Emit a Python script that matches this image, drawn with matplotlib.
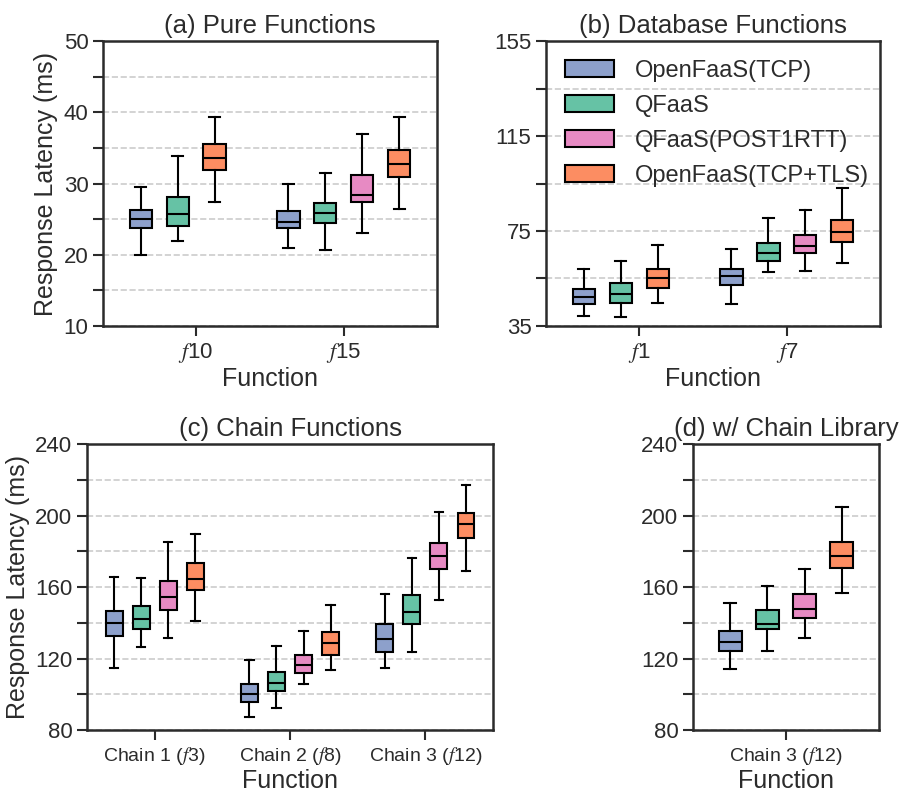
import matplotlib
matplotlib.use("Agg")
import matplotlib.pyplot as plt
from matplotlib.patches import Patch

plt.rcParams["font.family"] = ["Liberation Sans", "DejaVu Sans"]
plt.rcParams["mathtext.fontset"] = "stix"

SYSTEMS = ["OpenFaaS(TCP)", "QFaaS", "QFaaS(POST1RTT)", "OpenFaaS(TCP+TLS)"]
COLORS = ["#8da0cb", "#66c2a5", "#e78ac3", "#fc8d62"]
INK = "#2b2b2b"

# box stats per category: (whislo, q1, med, q3, whishi); None = not measured
PURE_CATS = [r"$f$10", r"$f$15"]
PURE_TCP = [(20.0, 23.7, 25.0, 26.3, 29.5), (20.9, 23.7, 24.6, 26.2, 30.0)]
PURE_QFAAS = [(21.9, 24.0, 25.7, 28.1, 33.8), (20.7, 24.4, 25.9, 27.3, 31.5)]
PURE_POST = [None, (23.0, 27.4, 28.4, 31.2, 37.0)]
PURE_TLS = [(27.4, 31.9, 33.6, 35.5, 39.3), (26.4, 30.9, 32.7, 34.7, 39.3)]

DB_CATS = [r"$f$1", r"$f$7"]
DB_TCP = [(39.4, 44.4, 47.2, 50.6, 59.0), (44.1, 52.4, 55.9, 59.0, 67.6)]
DB_QFAAS = [(38.8, 44.6, 48.6, 52.9, 62.3), (57.8, 62.3, 65.8, 70.0, 80.3)]
DB_POST = [None, (58.3, 65.9, 68.7, 73.4, 83.8)]
DB_TLS = [(44.7, 51.2, 55.2, 58.8, 69.0), (61.7, 70.4, 74.4, 79.5, 92.9)]

CHAIN_CATS = [r"Chain 1 ($f$3)", r"Chain 2 ($f$8)", r"Chain 3 ($f$12)"]
CHAIN_TCP = [(114.9, 132.5, 139.7, 146.7, 165.5), (87.1, 95.7, 100.2, 105.8, 119.4),
             (114.5, 123.9, 131.0, 139.2, 156.0)]
CHAIN_QFAAS = [(126.5, 136.6, 142.2, 149.1, 165.3), (92.3, 101.8, 106.3, 112.5, 127.0),
               (123.5, 139.4, 145.9, 155.6, 176.0)]
CHAIN_POST = [(131.7, 147.4, 154.5, 163.5, 185.3), (105.8, 111.9, 116.2, 122.0, 135.4),
              (152.8, 170.2, 177.1, 184.4, 201.9)]
CHAIN_TLS = [(141.0, 158.6, 164.6, 173.5, 189.6), (113.6, 122.0, 128.9, 134.7, 149.8),
             (168.9, 187.5, 195.2, 201.2, 217.0)]

LIB_CATS = [r"Chain 3 ($f$12)"]
LIB_TCP = [(114.1, 124.1, 129.3, 135.3, 150.9)]
LIB_QFAAS = [(124.1, 136.3, 139.1, 147.0, 160.7)]
LIB_POST = [(131.6, 142.6, 147.7, 156.0, 170.0)]
LIB_TLS = [(156.9, 170.6, 177.2, 185.4, 204.7)]

# y ticks: labelled majors, unlabelled minors (both gridded)
PURE_MAJOR, PURE_MINOR = [10, 20, 30, 40, 50], [15, 25, 35, 45]
DB_MAJOR, DB_MINOR = [35, 75, 115, 155], [55, 95, 135]
CHAIN_MAJOR, CHAIN_MINOR = [80, 120, 160, 200, 240], [100, 140, 180, 220]


def boxes(ax, cats, series, slot, width):
    for ci in range(len(cats)):
        # present series fill the slots from the left
        present = [(si, s[ci]) for si, s in enumerate(series) if s[ci] is not None]
        for k, (si, st) in enumerate(present):
            lo, q1, med, q3, hi = st
            pos = ci + (k - 1.5) * slot
            ax.bxp([dict(whislo=lo, q1=q1, med=med, q3=q3, whishi=hi, fliers=[])],
                   positions=[pos], widths=width, patch_artist=True, showfliers=False,
                   boxprops=dict(facecolor=COLORS[si], edgecolor="black", lw=1.5),
                   medianprops=dict(color="black", lw=1.5),
                   whiskerprops=dict(color="black", lw=1.5),
                   capprops=dict(color="black", lw=1.5))
    ax.set_xticks(range(len(cats)))
    ax.set_xticklabels(cats)


def style(ax, title, major, minor, ylabel=True, xfs=16):
    ax.set_ylim(major[0], major[-1])
    ax.set_yticks(major)
    ax.set_yticks(minor, minor=True)
    ax.tick_params(which="both", axis="y", length=7, width=1.5, color=INK,
                   labelsize=16, labelcolor=INK, direction="out")
    ax.tick_params(axis="x", length=7, width=1.5, color=INK, labelsize=xfs,
                   labelcolor=INK, direction="out")
    ax.grid(axis="y", which="both", ls="--", color="#cccccc", lw=1.2)
    ax.set_axisbelow(True)
    for sp in ax.spines.values():
        sp.set_color(INK); sp.set_linewidth(1.8)
    ax.set_title(title, fontsize=18.5, color=INK, pad=6)
    ax.set_xlabel("Function", fontsize=18, color=INK, labelpad=2)
    if ylabel:
        ax.set_ylabel("Response Latency (ms)", fontsize=18, color=INK)


fig = plt.figure(figsize=(9.01, 7.98), dpi=100)
ax_a = fig.add_axes([0.1143, 0.5915, 0.3707, 0.3571])
ax_b = fig.add_axes([0.606, 0.5915, 0.3707, 0.3571])
ax_c = fig.add_axes([0.0966, 0.0852, 0.4506, 0.3584])
ax_d = fig.add_axes([0.7691, 0.0852, 0.2065, 0.3584])

boxes(ax_a, PURE_CATS, [PURE_TCP, PURE_QFAAS, PURE_POST, PURE_TLS], 0.25, 0.15)
ax_a.set_xlim(-0.63, 1.63)
style(ax_a, "(a) Pure Functions", PURE_MAJOR, PURE_MINOR)

boxes(ax_b, DB_CATS, [DB_TCP, DB_QFAAS, DB_POST, DB_TLS], 0.25, 0.15)
ax_b.set_xlim(-0.63, 1.63)
style(ax_b, "(b) Database Functions", DB_MAJOR, DB_MINOR, ylabel=False)
handles = [Patch(facecolor=c, edgecolor="black", lw=1.5) for c in COLORS]
ax_b.legend(handles, SYSTEMS, loc="upper left", frameon=False, fontsize=17,
            handlelength=2.1, handleheight=0.75, labelspacing=0.55, handletextpad=0.85,
            borderaxespad=0.4, labelcolor=INK)

boxes(ax_c, CHAIN_CATS, [CHAIN_TCP, CHAIN_QFAAS, CHAIN_POST, CHAIN_TLS], 0.2, 0.125)
ax_c.set_xlim(-0.5, 2.5)
style(ax_c, "(c) Chain Functions", CHAIN_MAJOR, CHAIN_MINOR, xfs=14)

boxes(ax_d, LIB_CATS, [LIB_TCP, LIB_QFAAS, LIB_POST, LIB_TLS], 0.2, 0.125)
ax_d.set_xlim(-0.5, 0.5)
style(ax_d, "(d) w/ Chain Library", CHAIN_MAJOR, CHAIN_MINOR, ylabel=False, xfs=14)

fig.savefig("out.png", dpi=100)
